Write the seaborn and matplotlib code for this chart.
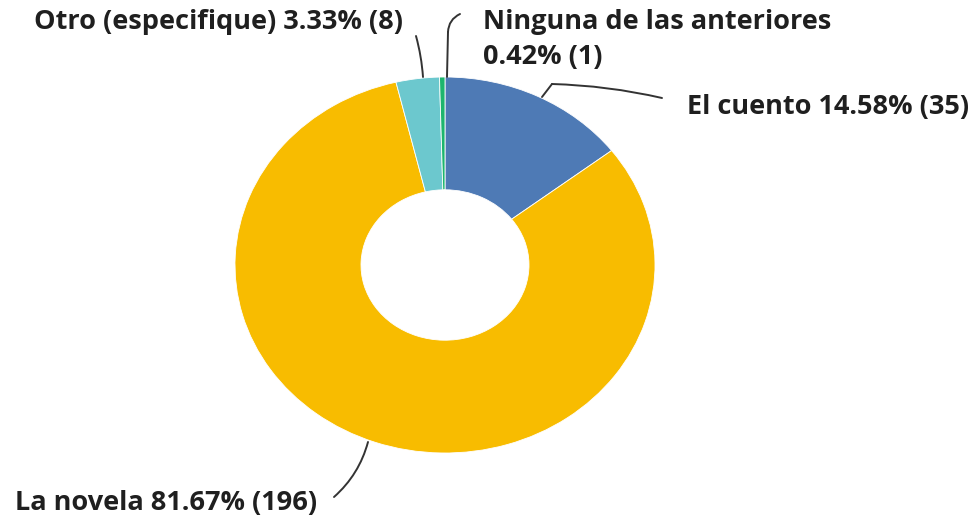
import matplotlib
matplotlib.use("Agg")
import matplotlib.pyplot as plt
import seaborn as sns
from matplotlib.patches import FancyArrowPatch

sns.set_theme(style="white")
plt.rcParams['font.family'] = ['Open Sans', 'DejaVu Sans']

categories = ["El cuento", "La novela", "Otro (especifique)", "Ninguna de las anteriores"]
counts = [35, 196, 8, 1]
percents = ["14.58%", "81.67%", "3.33%", "0.42%"]
colors = ["#4E7AB5", "#F8BC00", "#6CC8CE", "#1DB56E"]

W, H = 980, 520
fig = plt.figure(figsize=(W / 100, H / 100), dpi=100)
fig.patch.set_facecolor("white")

# donut is horizontally stretched in reference: center (445,265), rx 210, ry 188
cx, cy, rx, ry = 445, 265, 210, 188
ax = fig.add_axes([(cx - rx) / W, (H - (cy + ry)) / H, 2 * rx / W, 2 * ry / H])
ax.pie(counts, colors=colors, startangle=90, counterclock=False,
       wedgeprops=dict(width=0.60, edgecolor="white", linewidth=0.6))
ax.set_aspect("auto")
ax.set_xlim(-1, 1)
ax.set_ylim(-1, 1)
ax.axis("off")

def fp(x, y):
    return (x / W, (H - y) / H)

txt_kw = dict(fontsize=15, fontweight="bold", color="#1f1f1f", va="center", ha="left")
labels = [
    ((34, 22), f"{categories[2]} {percents[2]} ({counts[2]})", 377),
    ((483, 22), f"{categories[3]}", 340),
    ((483, 57), f"{percents[3]} ({counts[3]})", None),
    ((687, 107), f"{categories[0]} {percents[0]} ({counts[0]})", 288),
    ((15, 503), f"{categories[1]} {percents[1]} ({counts[1]})", 298),
]
texts = []
for (x, y), s, tw in labels:
    texts.append((fig.text(*fp(x, y), s, **txt_kw), tw))

fig.canvas.draw()
r = fig.canvas.get_renderer()
scales = [tw / t.get_window_extent(r).width for t, tw in texts if tw]
fs = 15 * sum(scales) / len(scales)
for t, tw in texts:
    t.set_fontsize(fs)

def leader(a, b, rad=0.0):
    p = FancyArrowPatch(fp(*a), fp(*b), transform=fig.transFigure,
                        arrowstyle="-", connectionstyle=f"arc3,rad={rad}",
                        color="#333333", lw=1.4, shrinkA=0, shrinkB=0)
    fig.add_artist(p)

leader((423, 77), (416, 36), 0.05)
leader((447, 77), (448, 32), 0.0)
leader((448, 32), (460, 14), -0.3)
leader((542, 97), (552, 84), 0.0)
leader((552, 84), (662, 98), -0.05)
leader((368, 442), (334, 497), -0.15)

fig.savefig("out.png", dpi=100, facecolor="white")
